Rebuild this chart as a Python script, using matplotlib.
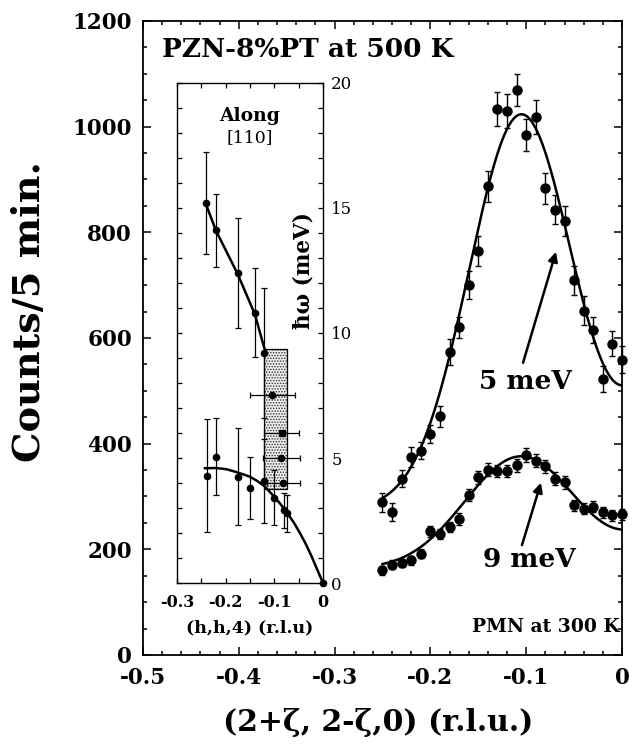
import numpy as np
import matplotlib
matplotlib.use("Agg")
import matplotlib.pyplot as plt
from matplotlib.ticker import MultipleLocator

plt.rcParams['font.family'] = ['DejaVu Serif']
plt.rcParams['font.weight'] = 'bold'
plt.rcParams['axes.labelweight'] = 'bold'
plt.rcParams['hatch.linewidth'] = 0.7

# --- main panel: constant-E scans along (2+z, 2-z, 0) ---
zeta = [-0.25, -0.24, -0.23, -0.22, -0.21, -0.20, -0.19, -0.18, -0.17, -0.16,
        -0.15, -0.14, -0.13, -0.12, -0.11, -0.10, -0.09, -0.08, -0.07, -0.06,
        -0.05, -0.04, -0.03, -0.02, -0.01, 0.00]
counts_5meV = [289, 270, 334, 374, 387, 418, 452, 574, 620, 700,
               765, 887, 1034, 1029, 1069, 984, 1019, 883, 843, 821,
               709, 652, 615, 522, 589, 559]
err_5meV = [18, 17, 17, 19, 17, 17, 20, 25, 20, 26,
            28, 30, 32, 32, 30, 31, 32, 30, 28, 28,
            27, 27, 25, 25, 24, 25]
counts_9meV = [160, 171, 174, 179, 192, 234, 229, 242, 257, 303,
               336, 351, 348, 348, 359, 379, 368, 357, 334, 327,
               283, 277, 281, 270, 264, 266]
err_9meV = [8, 8, 8, 8, 9, 10, 10, 10, 11, 11,
            12, 12, 12, 12, 12, 13, 13, 12, 12, 12,
            11, 11, 11, 11, 11, 11]

# fit parameters (background, slope, amplitude, centre, width)
fit_5meV = (275, 0, 748, -0.105, 0.0546)
fit_9meV = (135, -101, 230, -0.104, 0.060)

# --- inset: dispersion along [110] ---
q_upper = [-0.240, -0.220, -0.175, -0.140, -0.121]
E_upper = [15.2, 14.1, 12.4, 10.8, 9.2]
dE_upper = [2.05, 1.45, 2.2, 1.78, 2.6]

q_lower = [-0.239, -0.220, -0.175, -0.150, -0.121, -0.100, -0.080, -0.073]
E_lower = [4.29, 5.05, 4.25, 3.80, 4.09, 3.41, 2.92, 2.79]
dE_lower = [2.26, 1.54, 1.94, 1.24, 1.68, 1.10, 0.70, 0.75]

q_const = [-0.104, -0.086, -0.082]
E_const = [7.52, 5.01, 3.99]
dq_const = [0.046, 0.038, 0.034]
q_sq = [-0.085]
E_sq = [6.0]
dq_sq = [0.036]

box_q = [-0.121, -0.0746]
box_E = [3.75, 9.36]

line_upper_q = [-0.2405, -0.22, -0.175, -0.14, -0.1206]
line_upper_E = [15.15, 14.1, 12.35, 10.75, 9.4]
line_lower_q = [-0.2425, -0.22, -0.198, -0.175, -0.15, -0.135, -0.1206, -0.1,
                -0.087, -0.073, -0.06, -0.047, -0.035, -0.023, -0.012, 0.0]
line_lower_E = [4.59, 4.6, 4.55, 4.42, 4.25, 4.08, 3.88, 3.45,
                3.15, 2.79, 2.42, 1.99, 1.55, 1.05, 0.55, 0.0]


def two_peaks(x, base, slope, amp, x0, sig):
    g = np.exp(-(x - x0)**2 / (2 * sig**2)) + np.exp(-(x + x0)**2 / (2 * sig**2))
    return base + slope * x + amp * g


fig = plt.figure(figsize=(6.33, 7.55), dpi=100)
ax = fig.add_axes([0.2259, 0.1325, 0.7567, 0.8397])

zf = np.linspace(-0.25, 0, 300)
ax.plot(zf, two_peaks(zf, *fit_5meV), color='k', lw=1.8, zorder=2)
ax.plot(zf, two_peaks(zf, *fit_9meV), color='k', lw=1.8, zorder=2)
ax.errorbar(zeta, counts_5meV, yerr=err_5meV, fmt='o', color='k', ms=6.5,
            elinewidth=1, capsize=2.5, capthick=1, zorder=3, clip_on=False)
ax.errorbar(zeta, counts_9meV, yerr=err_9meV, fmt='o', color='k', ms=6.5,
            elinewidth=1, capsize=2.5, capthick=1, zorder=3, clip_on=False)

ax.set_xlim(-0.5, 0)
ax.set_ylim(0, 1200)
ax.set_xticks([-0.5, -0.4, -0.3, -0.2, -0.1, 0])
ax.set_xticklabels(['-0.5', '-0.4', '-0.3', '-0.2', '-0.1', '0'])
ax.xaxis.set_minor_locator(MultipleLocator(0.02))
ax.yaxis.set_major_locator(MultipleLocator(200))
ax.yaxis.set_minor_locator(MultipleLocator(50))
ax.tick_params(which='both', direction='in', top=True, right=True,
               labelsize=15.5, width=1.1)
ax.tick_params(which='major', length=6)
ax.tick_params(which='minor', length=3)
ax.tick_params(axis='y', pad=8)
ax.tick_params(axis='x', pad=9)
for s in ax.spines.values():
    s.set_linewidth(1.3)

ax.set_ylabel('Counts/5 min.', fontsize=27.5)
ax.yaxis.set_label_coords(-0.198, 0.541)
ax.set_xlabel('(2+ζ, 2-ζ,0) (r.l.u.)', fontsize=21.5)
ax.xaxis.set_label_coords(0.49, -0.083)

ax.text(-0.4802, 1131, 'PZN-8%PT at 500 K', fontsize=19, ha='left', va='baseline')
ax.text(-0.1013, 517, '5 meV', fontsize=19, ha='center', va='center')
ax.text(-0.0966, 180, '9 meV', fontsize=19, ha='center', va='center')
ax.text(-0.002, 53, 'PMN at 300 K', fontsize=13.5, ha='right', va='center')

arrow = dict(arrowstyle='-|>', color='k', lw=1.8, mutation_scale=14, shrinkA=0, shrinkB=0)
ax.annotate('', xy=(-0.0689, 763), xytext=(-0.1033, 553), arrowprops=arrow)
ax.annotate('', xy=(-0.0846, 326), xytext=(-0.1044, 208), arrowprops=arrow)

# --- inset ---
axin = fig.add_axes([0.2796, 0.2278, 0.2306, 0.6623])
axin.set_facecolor('white')
axin.fill_between(box_q, box_E[0], box_E[1], facecolor='0.93', edgecolor='0.2',
                  hatch='......', lw=0, zorder=1)
axin.fill_between(box_q, box_E[0], box_E[1], facecolor='none', edgecolor='k',
                  lw=0.9, zorder=1)
axin.plot(line_upper_q, line_upper_E, color='k', lw=1.8, zorder=2)
axin.plot(line_lower_q, line_lower_E, color='k', lw=1.8, zorder=2)
axin.errorbar(q_upper, E_upper, yerr=dE_upper, fmt='o', color='k', ms=4.5,
              elinewidth=0.9, capsize=2.5, capthick=0.9, zorder=3)
axin.errorbar(q_lower, E_lower, yerr=dE_lower, fmt='o', color='k', ms=4.5,
              elinewidth=0.9, capsize=2.5, capthick=0.9, zorder=3)
axin.errorbar(q_const, E_const, xerr=dq_const, fmt='o', color='k', ms=4.5,
              elinewidth=0.9, capsize=2.5, capthick=0.9, zorder=3)
axin.errorbar(q_sq, E_sq, xerr=dq_sq, fmt='s', color='k', ms=4.5,
              elinewidth=0.9, capsize=2.5, capthick=0.9, zorder=3)
axin.plot([0], [0], 'o', color='k', ms=4.5, clip_on=False, zorder=3)

axin.set_xlim(-0.3, 0)
axin.set_ylim(0, 20)
axin.set_xticks([-0.3, -0.2, -0.1, 0])
axin.set_xticklabels(['-0.3', '-0.2', '-0.1', '0'])
axin.xaxis.set_minor_locator(MultipleLocator(0.05))
axin.yaxis.set_major_locator(MultipleLocator(5))
axin.yaxis.set_minor_locator(MultipleLocator(1))
axin.tick_params(which='both', direction='in', top=True, right=True, left=True,
                 labelleft=False, labelright=True, length=3.5, width=0.9)
axin.tick_params(axis='x', labelsize=11.5, pad=8)
axin.tick_params(axis='y', labelsize=12, pad=6)
for lab in axin.get_yticklabels():
    lab.set_fontweight('normal')
for s in axin.spines.values():
    s.set_linewidth(1.0)

axin.set_xlabel('(h,h,4) (r.l.u)', fontsize=12.5, labelpad=6)
axin.text(-0.15, 18.68, 'Along', fontsize=13.5, ha='center', va='center')
axin.text(-0.15, 17.8, '[110]', fontsize=12.5, ha='center', va='center', fontweight='normal')
axin.text(-0.041, 12.5, 'ħω (meV)', fontsize=15.5, rotation=90, ha='center', va='center')

fig.savefig('out.png', dpi=100)
